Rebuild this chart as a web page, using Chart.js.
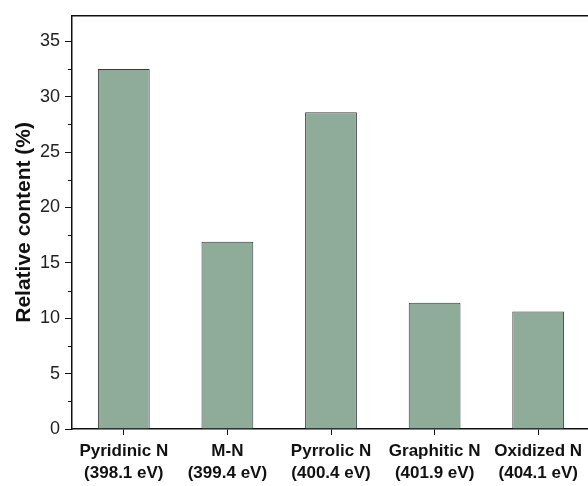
<!DOCTYPE html>
<html>
<head>
<meta charset="utf-8">
<script src="https://cdn.jsdelivr.net/npm/chart.js@4"></script>
<style>
  html, body { margin: 0; padding: 0; background: #fff; overflow: hidden; }
  #wrap { width: 600px; height: 486px; }
</style>
</head>
<body>
<div id="wrap"><canvas id="chart" width="600" height="486"></canvas></div>
<script>
const categories = [
  ["Pyridinic N", "(398.1 eV)"],
  ["M-N", "(399.4 eV)"],
  ["Pyrrolic N", "(400.4 eV)"],
  ["Graphitic N", "(401.9 eV)"],
  ["Oxidized N", "(404.1 eV)"]
];
const contentValues = [32.5, 16.9, 28.6, 11.4, 10.6];
const yTickLabels = [0, 5, 10, 15, 20, 25, 30, 35];
const yMax = 37.3;

// minor ticks between labelled ones + top frame line
const framePlugin = {
  id: "frame",
  afterDraw(chart) {
    const ctx = chart.ctx;
    const area = chart.chartArea;
    const y = chart.scales.y;
    ctx.save();
    ctx.strokeStyle = "#111";
    ctx.lineWidth = 1.5;
    ctx.beginPath();
    ctx.moveTo(area.left, area.top);
    ctx.lineTo(area.right, area.top);
    ctx.stroke();
    ctx.lineWidth = 1;
    for (let i = 0; i < yTickLabels.length; i++) {
      const v = yTickLabels[i] + 2.5;
      if (v > yMax) break;
      const py = Math.round(y.getPixelForValue(v)) + 0.5;
      ctx.beginPath();
      ctx.moveTo(area.left - 4, py);
      ctx.lineTo(area.left, py);
      ctx.stroke();
    }
    ctx.restore();
  }
};

const ctx = document.getElementById("chart").getContext("2d");
new Chart(ctx, {
  type: "bar",
  data: {
    labels: categories,
    datasets: [{
      data: contentValues,
      backgroundColor: "#8fac9b",
      borderColor: "#3a3a3a",
      borderWidth: 1,
      borderSkipped: "bottom",
      categoryPercentage: 1.0,
      barPercentage: 0.5
    }]
  },
  options: {
    responsive: false,
    animation: false,
    layout: { padding: { top: 14, right: 10, left: 0, bottom: 0 } },
    plugins: {
      legend: { display: false },
      tooltip: { enabled: false }
    },
    scales: {
      x: {
        afterFit(scale) { scale.height = 57; },
        grid: {
          drawOnChartArea: false,
          tickLength: 6,
          color: "#111",
          offset: false
        },
        border: { color: "#111", width: 1.5 },
        ticks: {
          color: "#111",
          padding: 6,
          maxRotation: 0,
          autoSkip: false,
          font: { family: "Liberation Sans, Arial, sans-serif", size: 17, weight: "bold", lineHeight: 1.25 }
        }
      },
      y: {
        min: 0,
        max: yMax,
        afterFit(scale) { scale.width = 72; },
        afterBuildTicks(scale) {
          scale.ticks = yTickLabels.map(v => ({ value: v }));
        },
        grid: {
          drawOnChartArea: false,
          tickLength: 7,
          color: "#111"
        },
        border: { color: "#111", width: 1.5 },
        ticks: {
          color: "#222",
          padding: 5,
          font: { family: "Liberation Sans, Arial, sans-serif", size: 18 }
        },
        title: {
          display: true,
          text: "Relative content (%)",
          color: "#111",
          padding: { top: 12, bottom: 0 },
          font: { family: "Liberation Sans, Arial, sans-serif", size: 21, weight: "bold" }
        }
      }
    }
  },
  plugins: [framePlugin]
});
</script>
</body>
</html>
